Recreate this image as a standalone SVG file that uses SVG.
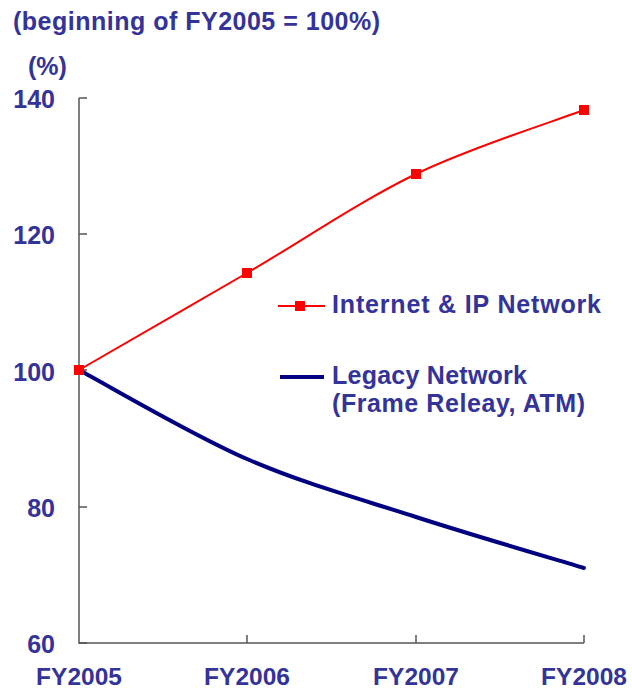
<svg xmlns="http://www.w3.org/2000/svg" width="632" height="691" viewBox="0 0 632 691">
  <style>
    .lbl { font-family: "Liberation Sans", Arial, sans-serif; font-weight: bold; font-size: 25px; fill: #333399; }
    .ylab { text-anchor: end; }
    .xlab { text-anchor: middle; font-size: 24.5px; }
    .axis { stroke: #555555; stroke-width: 1.5; fill: none; }
    .ip { stroke: #FF0000; stroke-width: 2; fill: none; }
    .legacy { stroke: #000080; stroke-width: 4; fill: none; stroke-linecap: round; }
  </style>
  <defs>
    <rect id="sq" x="-5" y="-5" width="10" height="10" fill="#FF0000"/>
  </defs>
  <rect width="632" height="691" fill="#FFFFFF"/>

  <!-- headings -->
  <g id="title">
    <text class="lbl" x="13" y="30" textLength="367" lengthAdjust="spacing">(beginning of FY2005 = 100%)</text>
    <text class="lbl" x="28" y="75">(%)</text>
  </g>

  <!-- axes with inward ticks -->
  <g id="axes">
    <path class="axis" d="M79,98 V643 H584"/>
    <path class="axis" d="M79,98 H87 M79,234 H87 M79,370 H87 M79,507 H87 M79,643 H87"/>
    <path class="axis" d="M247,643 V635 M416,643 V635 M584,643 V635"/>
  </g>

  <g id="y-labels">
    <text class="lbl ylab" x="55" y="108">140</text>
    <text class="lbl ylab" x="55" y="244">120</text>
    <text class="lbl ylab" x="55" y="381">100</text>
    <text class="lbl ylab" x="55" y="517">80</text>
    <text class="lbl ylab" x="55" y="653">60</text>
  </g>

  <g id="x-labels">
    <text class="lbl xlab" x="79" y="685">FY2005</text>
    <text class="lbl xlab" x="247" y="685">FY2006</text>
    <text class="lbl xlab" x="416" y="685">FY2007</text>
    <text class="lbl xlab" x="584" y="685">FY2008</text>
  </g>

  <!-- data series -->
  <g id="series">
    <g id="legacy-network">
      <path class="legacy" d="M79,370 C107,384.8 190.8,434.5 247,459 C303.2,483.5 359.8,498.8 416,517 C472.2,535.2 556,559.5 584,568"/>
    </g>
    <g id="internet-ip-network">
      <path class="ip" d="M79,370 C107,353.8 190.8,305.7 247,273 C303.2,240.3 359.8,201.2 416,174 C472.2,146.8 556,120.7 584,110"/>
      <use href="#sq" x="79" y="370"/>
      <use href="#sq" x="247" y="273"/>
      <use href="#sq" x="416" y="174"/>
      <use href="#sq" x="584" y="110"/>
    </g>
  </g>

  <!-- legend -->
  <g id="legend">
    <g id="legend-ip">
      <line class="ip" x1="278" y1="306" x2="325" y2="306"/>
      <use href="#sq" x="300" y="306"/>
      <text class="lbl" x="332" y="313" textLength="269" lengthAdjust="spacing">Internet &amp; IP Network</text>
    </g>
    <g id="legend-legacy">
      <line class="legacy" x1="280" y1="377" x2="324" y2="377" style="stroke-linecap:butt"/>
      <text class="lbl" x="332" y="384" textLength="195" lengthAdjust="spacing">Legacy Network</text>
      <text class="lbl" x="332" y="412" textLength="253" lengthAdjust="spacing">(Frame Releay, ATM)</text>
    </g>
  </g>
</svg>
